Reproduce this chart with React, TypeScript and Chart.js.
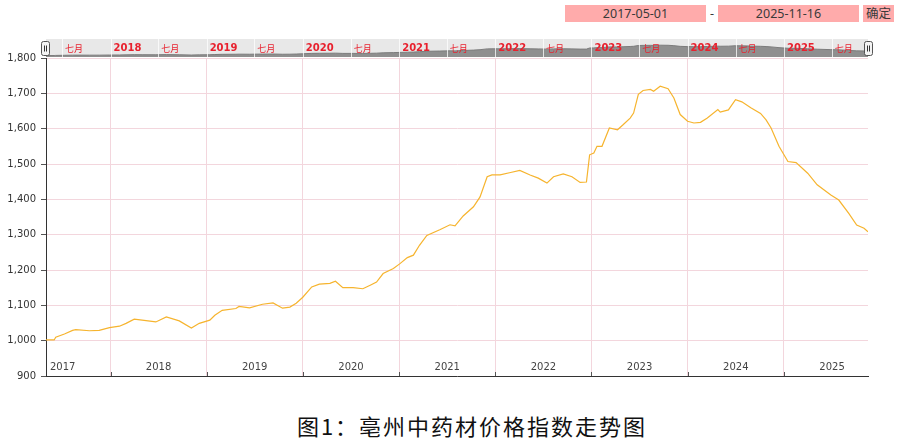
import React, { useEffect, useRef } from "react";
import { Chart, registerables } from "chart.js";
Chart.register(...registerables);

// ---- data ----
const startDate = "2017-05-01";
const endDate = "2025-11-16";
const titleText = "图1：亳州中药材价格指数走势图";
const confirmLabel = "确定";
const navMonthLabel = "七月";
const yearLabels = ["2017", "2018", "2019", "2020", "2021", "2022", "2023", "2024", "2025"];
const yTickValues = [900, 1000, 1100, 1200, 1300, 1400, 1500, 1600, 1700, 1800];

const dates = [
  "2017-05-01", "2017-06-01", "2017-06-07", "2017-07-10", "2017-08-10", "2017-08-22", "2017-10-13", "2017-11-19", "2017-12-28",
  "2018-02-04", "2018-03-01", "2018-04-01", "2018-05-01", "2018-06-22", "2018-08-01", "2018-09-19", "2018-11-04", "2018-12-04",
  "2019-01-13", "2019-02-01", "2019-03-01", "2019-04-22", "2019-05-04", "2019-06-13", "2019-08-01", "2019-09-10", "2019-10-16", "2019-11-13", "2019-12-07",
  "2020-01-01", "2020-02-04", "2020-03-04", "2020-04-13", "2020-05-04", "2020-06-01", "2020-07-10", "2020-08-16", "2020-09-13", "2020-10-07", "2020-11-01", "2020-12-10",
  "2021-01-04", "2021-02-01", "2021-02-24", "2021-03-19", "2021-04-16", "2021-06-04", "2021-07-13", "2021-08-01", "2021-09-01", "2021-10-10", "2021-11-04", "2021-12-01", "2021-12-19",
  "2022-01-19", "2022-02-28", "2022-04-04", "2022-05-13", "2022-06-13", "2022-07-16", "2022-08-10", "2022-09-16", "2022-10-19", "2022-11-19", "2022-12-13", "2022-12-25",
  "2023-01-10", "2023-01-22", "2023-02-10", "2023-03-10", "2023-04-10", "2023-05-01", "2023-05-28", "2023-06-10", "2023-06-28", "2023-07-16", "2023-08-13", "2023-08-25", "2023-09-19", "2023-10-19", "2023-11-10", "2023-12-04",
  "2024-01-01", "2024-01-25", "2024-02-19", "2024-03-16", "2024-04-25", "2024-05-04", "2024-06-04", "2024-07-01", "2024-07-25", "2024-08-28", "2024-10-04", "2024-10-25", "2024-11-13", "2024-12-13",
  "2025-01-16", "2025-02-16", "2025-04-01", "2025-05-07", "2025-06-28", "2025-07-28", "2025-09-04", "2025-10-04", "2025-11-01", "2025-11-16",
];

const values = [
  1002, 1002, 1010, 1019, 1029, 1031, 1028, 1029, 1037,
  1041, 1049, 1061, 1058, 1053, 1067, 1056, 1036, 1049,
  1058, 1072, 1086, 1091, 1097, 1093, 1103, 1107, 1092, 1095, 1106,
  1123, 1152, 1160, 1162, 1168, 1150, 1150, 1147, 1157, 1166, 1190, 1204,
  1218, 1235, 1242, 1270, 1298, 1314, 1328, 1325, 1353, 1379, 1407, 1464, 1469,
  1469, 1476, 1482, 1469, 1460, 1446, 1464, 1472, 1464, 1448, 1449, 1526,
  1531, 1550, 1550, 1602, 1597, 1611, 1630, 1644, 1697, 1708, 1711, 1706, 1720, 1713, 1687, 1640,
  1621, 1616, 1618, 1630, 1654, 1647, 1653, 1682, 1676, 1659, 1643, 1625, 1602, 1550,
  1507, 1504, 1474, 1441, 1412, 1398, 1360, 1327, 1318, 1308,
];

const toTime = (s: string) => Date.parse(s + "T00:00:00Z");
const xMin = toTime(startDate);
const xMax = toTime(endDate);
const pink = "#f3d6dd";

function buildPoints() {
  return dates.map((d, i) => ({ x: toTime(d), y: values[i] }));
}

const yearBoundaries = () => {
  const out: number[] = [];
  for (let y = 2018; y <= 2025; y++) out.push(Date.UTC(y, 0, 1));
  return out;
};

const mainLabelsPlugin = {
  id: "mainLabels",
  afterDraw(chart: any) {
    const ctx = chart.ctx;
    const xs = chart.scales.x;
    const area = chart.chartArea;
    ctx.save();
    ctx.strokeStyle = "#555";
    ctx.lineWidth = 1;
    yearBoundaries().forEach((t) => {
      const px = Math.round(xs.getPixelForValue(t)) + 0.5;
      ctx.beginPath();
      ctx.moveTo(px, area.bottom - 4);
      ctx.lineTo(px, area.bottom);
      ctx.stroke();
    });
    ctx.font = "10px 'DejaVu Sans'";
    ctx.fillStyle = "#444";
    ctx.textBaseline = "middle";
    ctx.textAlign = "center";
    yearLabels.forEach((lab) => {
      const y = parseInt(lab, 10);
      const mid = (Date.UTC(y, 0, 1) + Date.UTC(y + 1, 0, 1)) / 2;
      const w = ctx.measureText(lab).width;
      let cx = xs.getPixelForValue(mid);
      cx = Math.max(cx, area.left + 4 + w / 2);
      cx = Math.min(cx, area.right - 4 - w / 2);
      ctx.fillText(lab, cx, area.bottom - 9);
    });
    ctx.restore();
  },
};

function drawHandle(ctx: CanvasRenderingContext2D, x: number, y: number) {
  const w = 8, h = 14;
  ctx.beginPath();
  const r = 2;
  ctx.moveTo(x + r, y);
  ctx.lineTo(x + w - r, y);
  ctx.quadraticCurveTo(x + w, y, x + w, y + r);
  ctx.lineTo(x + w, y + h - r);
  ctx.quadraticCurveTo(x + w, y + h, x + w - r, y + h);
  ctx.lineTo(x + r, y + h);
  ctx.quadraticCurveTo(x, y + h, x, y + h - r);
  ctx.lineTo(x, y + r);
  ctx.quadraticCurveTo(x, y, x + r, y);
  ctx.closePath();
  ctx.fillStyle = "#f4f4f4";
  ctx.fill();
  ctx.strokeStyle = "#555";
  ctx.lineWidth = 1;
  ctx.stroke();
  ctx.beginPath();
  ctx.moveTo(x + 3, y + 4);
  ctx.lineTo(x + 3, y + h - 4);
  ctx.moveTo(x + 5, y + 4);
  ctx.lineTo(x + 5, y + h - 4);
  ctx.strokeStyle = "#333";
  ctx.stroke();
}

const navPlugin = {
  id: "navPlugin",
  beforeDatasetsDraw(chart: any) {
    const ctx = chart.ctx;
    const a = chart.chartArea;
    ctx.save();
    ctx.fillStyle = "#e8e8e8";
    ctx.fillRect(a.left, a.top, a.right - a.left, a.bottom - a.top);
    ctx.restore();
  },
  afterDatasetsDraw(chart: any) {
    const ctx = chart.ctx;
    const a = chart.chartArea;
    const xs = chart.scales.x;
    ctx.save();
    const marks: { t: number; label: string }[] = [];
    for (let y = 2017; y <= 2025; y++) {
      if (y > 2017) marks.push({ t: Date.UTC(y, 0, 1), label: String(y) });
      marks.push({ t: Date.UTC(y, 6, 1), label: navMonthLabel });
    }
    ctx.strokeStyle = "rgba(255,255,255,0.75)";
    ctx.lineWidth = 1;
    marks.forEach((m) => {
      const px = Math.round(xs.getPixelForValue(m.t)) + 0.5;
      ctx.beginPath();
      ctx.moveTo(px, a.top);
      ctx.lineTo(px, a.bottom);
      ctx.stroke();
    });
    ctx.fillStyle = "#e8212e";
    ctx.textBaseline = "middle";
    ctx.textAlign = "left";
    marks.forEach((m) => {
      const px = xs.getPixelForValue(m.t);
      ctx.font = m.label === navMonthLabel ? "9px 'Noto Sans CJK SC'" : "bold 10px 'DejaVu Sans'";
      ctx.fillText(m.label, px + 3, a.top + 9.5);
    });
    drawHandle(ctx, a.left - 4.5, a.top + 2.5);
    drawHandle(ctx, a.right - 3.5, a.top + 2.5);
    ctx.restore();
  },
};

export default function App() {
  const mainRef = useRef<HTMLCanvasElement | null>(null);
  const navRef = useRef<HTMLCanvasElement | null>(null);

  useEffect(() => {
    const points = buildPoints();
    const main = new Chart(mainRef.current as HTMLCanvasElement, {
      type: "line",
      data: {
        datasets: [
          {
            data: points,
            borderColor: "#f6b42e",
            borderWidth: 1.2,
            pointRadius: 0,
            tension: 0,
            fill: false,
          },
        ],
      },
      options: {
        animation: false,
        responsive: false,
        events: [],
        layout: { padding: { top: 58, right: 36, left: 0, bottom: 0 } },
        plugins: { legend: { display: false }, tooltip: { enabled: false } },
        scales: {
          x: {
            type: "linear",
            min: xMin,
            max: xMax,
            afterBuildTicks: (s: any) => {
              s.ticks = yearBoundaries().map((v) => ({ value: v }));
            },
            ticks: { display: false },
            grid: { color: pink, drawTicks: false },
            border: { display: true, color: "#333" },
            afterFit: (s: any) => {
              s.height = 14;
            },
          },
          y: {
            min: 900,
            max: 1800,
            afterBuildTicks: (s: any) => {
              s.ticks = yTickValues.map((v) => ({ value: v }));
            },
            ticks: {
              callback: (v: any) => Number(v).toLocaleString("en-US"),
              font: { family: "'DejaVu Sans'", size: 10 },
              color: "#333",
              padding: 5,
            },
            grid: { color: pink, tickColor: "#555", tickLength: 5 },
            border: { display: true, color: "#333" },
            afterFit: (s: any) => {
              s.width = 46;
            },
          },
        },
      },
      plugins: [mainLabelsPlugin],
    } as any);

    const nav = new Chart(navRef.current as HTMLCanvasElement, {
      type: "line",
      data: {
        datasets: [
          {
            data: points,
            borderColor: "#7c7c7c",
            borderWidth: 1,
            backgroundColor: "#8f8f8f",
            fill: "start",
            pointRadius: 0,
            tension: 0,
          },
        ],
      },
      options: {
        animation: false,
        responsive: false,
        events: [],
        layout: { padding: { left: 46, right: 36, top: 3, bottom: 1 } },
        plugins: { legend: { display: false }, tooltip: { enabled: false } },
        scales: {
          x: { type: "linear", display: false, min: xMin, max: xMax },
          y: { display: false, min: 900, max: 2150 },
        },
      },
      plugins: [navPlugin],
    } as any);

    return () => {
      main.destroy();
      nav.destroy();
    };
  }, []);

  const boxStyle: React.CSSProperties = {
    position: "absolute",
    top: 5,
    height: 17,
    lineHeight: "17px",
    background: "#ffabab",
    color: "#3a3a3a",
    fontFamily: "'Noto Sans', 'Noto Sans CJK SC', sans-serif",
    fontSize: 12.5,
    textAlign: "center",
  };

  return (
    <div style={{ position: "absolute", left: 0, top: 0, width: 904, height: 443, background: "#fff", overflow: "hidden" }}>
      <div style={{ ...boxStyle, left: 565, width: 141 }}>{startDate}</div>
      <div style={{ ...boxStyle, left: 707, width: 10, background: "transparent" }}>-</div>
      <div style={{ ...boxStyle, left: 718, width: 141 }}>{endDate}</div>
      <div style={{ ...boxStyle, left: 863, width: 31 }}>{confirmLabel}</div>
      <canvas ref={mainRef} width={904} height={390} style={{ position: "absolute", left: 0, top: 0, width: 904, height: 390 }} />
      <canvas ref={navRef} width={904} height={22} style={{ position: "absolute", left: 0, top: 36, width: 904, height: 22 }} />
      <div
        style={{
          position: "absolute",
          left: 0,
          width: 944,
          top: 410,
          height: 30,
          lineHeight: "30px",
          textAlign: "center",
          fontFamily: "'Noto Sans CJK SC', sans-serif",
          fontSize: 22,
          letterSpacing: 2,
          color: "#111",
        }}
      >
        {titleText}
      </div>
    </div>
  );
}
